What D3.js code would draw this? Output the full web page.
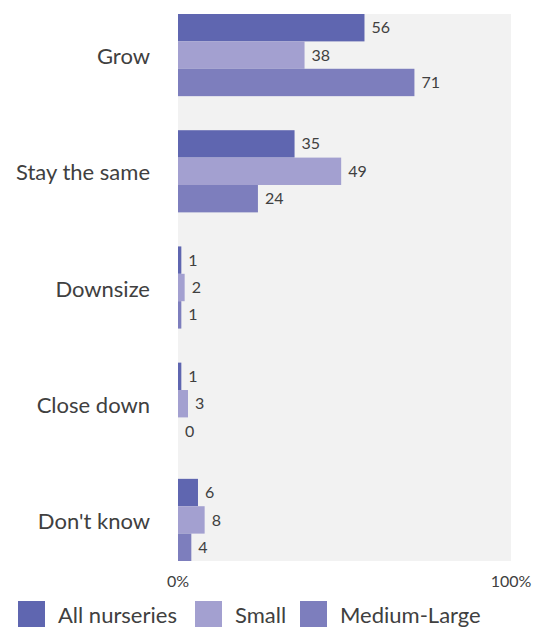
<!DOCTYPE html>
<html lang="en">
<head>
  <meta charset="UTF-8">
  <title>Nursery plans</title>
  <script src="https://d3js.org/d3.v7.min.js"></script>
  <style>
    body { margin: 0; background: #fff; font-family: Lato, "Open Sans", sans-serif; }
    svg { display: block; }
    text { fill: #404040; }
  </style>
</head>
<body>
  <svg width="538" height="628"></svg>
  <script>
  // Chart data
  const categories = ["Grow", "Stay the same", "Downsize", "Close down", "Don't know"];
  const seriesNames = ["All nurseries", "Small", "Medium-Large"];
  const allNurseries = [56, 35, 1, 1, 6];
  const small = [38, 49, 2, 3, 8];
  const mediumLarge = [71, 24, 1, 0, 4];
  const tickValues = [0, 100];

  const colors = ["#5f66b0", "#a3a0d0", "#7d7ebd"];
  const seriesValues = [allNurseries, small, mediumLarge];

  // plot area edges
  const plotLeft = 178, plotRight = 511, plotTop = 14, plotBottom = 561;

  const svg = d3.select("svg");

  const x = d3.scaleLinear().domain([0, 100]).range([plotLeft, plotRight]);
  const y0 = d3.scaleBand().domain(categories).range([plotTop, plotBottom])
               .paddingInner(0.293).paddingOuter(0);
  const y1 = d3.scaleBand().domain(seriesNames).range([0, y0.bandwidth()]).padding(0);

  // plot background
  svg.append("rect")
     .attr("x", plotLeft).attr("y", plotTop)
     .attr("width", plotRight - plotLeft).attr("height", plotBottom - plotTop)
     .attr("fill", "#f2f2f2");

  // rows of bars, one group per category
  const rows = categories.map((c, i) => ({
    category: c,
    values: seriesNames.map((s, j) => ({ series: s, value: seriesValues[j][i], color: colors[j] }))
  }));

  const groups = svg.selectAll("g.cat")
    .data(rows)
    .enter().append("g")
    .attr("class", "cat")
    .attr("transform", d => `translate(0,${y0(d.category)})`);

  groups.selectAll("rect")
    .data(d => d.values)
    .enter().append("rect")
    .attr("x", x(0))
    .attr("y", d => y1(d.series))
    .attr("width", d => x(d.value) - x(0))
    .attr("height", y1.bandwidth())
    .attr("fill", d => d.color);

  groups.selectAll("text.val")
    .data(d => d.values)
    .enter().append("text")
    .attr("class", "val")
    .attr("x", d => x(d.value) + 7)
    .attr("y", d => y1(d.series) + y1.bandwidth() / 2)
    .attr("dy", "0.35em")
    .style("font-size", "16px")
    .text(d => d.value);

  // category labels
  svg.selectAll("text.catlabel")
    .data(categories)
    .enter().append("text")
    .attr("class", "catlabel")
    .attr("x", 150)
    .attr("y", d => y0(d) + y0.bandwidth() / 2 + 1.5)
    .attr("dy", "0.35em")
    .attr("text-anchor", "end")
    .style("font-size", "22px")
    .text(d => d);

  // x tick labels
  svg.selectAll("text.tick")
    .data(tickValues)
    .enter().append("text")
    .attr("class", "tick")
    .attr("x", d => x(d))
    .attr("y", 587)
    .attr("text-anchor", "middle")
    .style("font-size", "16px")
    .text(d => d + "%");

  // legend
  const legendX = [18, 195, 300];
  const legend = svg.selectAll("g.legend")
    .data(seriesNames)
    .enter().append("g")
    .attr("class", "legend")
    .attr("transform", (d, i) => `translate(${legendX[i]},601)`);

  legend.append("rect")
    .attr("width", 27).attr("height", 26)
    .attr("fill", (d, i) => colors[i]);

  legend.append("text")
    .attr("x", 40)
    .attr("y", 14)
    .attr("dy", "0.35em")
    .style("font-size", "22px")
    .text(d => d);
  </script>
</body>
</html>
